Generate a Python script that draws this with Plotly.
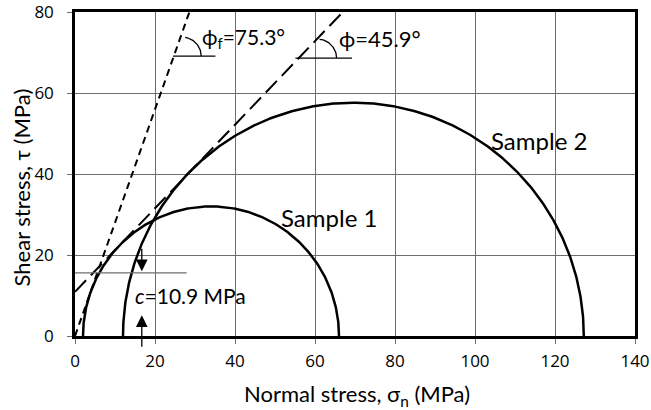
import numpy as np
import plotly.graph_objects as go

# ---- data ----
samples = ["Sample 1", "Sample 2"]
sigma3 = [2.0, 12.0]          # MPa, minor principal stress (left end of circle)
sigma1 = [66.0, 127.2]        # MPa, major principal stress (right end of circle)

# Mohr-Coulomb envelope (long dashed)
cohesion = 10.9               # MPa
phi_deg = 45.9                # deg

# failure line (short dashed) as drawn
fail_sigma = [0.0, 28.6]
fail_tau = [0.0, 80.0]

x_ticks = [0, 20, 40, 60, 80, 100, 120, 140]
y_ticks = [0, 20, 40, 60, 80]

X_RANGE = [0, 140]
Y_RANGE = [0, 80]

LABEL_FONT = "Lato"
TICK_FONT = "Open Sans"

fig = go.Figure()

# Mohr circles
for name, s3, s1 in zip(samples, sigma3, sigma1):
    c = (s1 + s3) / 2
    r = (s1 - s3) / 2
    t = np.linspace(0, np.pi, 361)
    fig.add_trace(go.Scatter(x=c + r * np.cos(t), y=r * np.sin(t), mode="lines",
                             line=dict(color="black", width=2.5), name=name,
                             hoverinfo="skip", showlegend=False))

# long dashed envelope
slope = np.tan(np.radians(phi_deg))
env_x = [0.0, (Y_RANGE[1] - cohesion) / slope]
env_y = [cohesion + slope * v for v in env_x]
fig.add_trace(go.Scatter(x=env_x, y=env_y, mode="lines",
                         line=dict(color="black", width=2, dash="16px,7px"),
                         hoverinfo="skip", showlegend=False))

# short dashed failure line
fig.add_trace(go.Scatter(x=fail_sigma, y=fail_tau, mode="lines",
                         line=dict(color="black", width=2, dash="7px,5px"),
                         hoverinfo="skip", showlegend=False))

# angle markers (horizontal line + quarter arc)
px_x, px_y = 4.0, 4.05   # pixels per data unit
def angle_marker(x0, x1, yh, xc, r_px=19, a1=84):
    fig.add_shape(type="line", x0=x0, x1=x1, y0=yh, y1=yh,
                  line=dict(color="black", width=1.3))
    a = np.radians(np.linspace(0, a1, 40))
    fig.add_trace(go.Scatter(x=xc + r_px / px_x * np.cos(a), y=yh + r_px / px_y * np.sin(a),
                             mode="lines", line=dict(color="black", width=1.3),
                             hoverinfo="skip", showlegend=False))

angle_marker(24.5, 35.1, 69.1, 26.8, a1=81)
angle_marker(55.1, 69.25, 68.6, 60.65, a1=84)

# cohesion marker line
fig.add_shape(type="line", x0=0, x1=27.9, y0=15.6, y1=15.6,
              line=dict(color="#6e6e6e", width=1.3))

# arrows
for ytip, ay in [(16.0, -24), (5.1, 33)]:
    fig.add_annotation(x=16.7, y=ytip, ax=0, ay=ay, text="", showarrow=True,
                       arrowhead=2, arrowsize=1.8, arrowwidth=1.3, arrowcolor="black")

lab = dict(family=LABEL_FONT, size=24, color="black")
lab_num = dict(family=LABEL_FONT, size=21, color="black")
fig.add_annotation(x=63.5, y=29.3, text="Sample 1", showarrow=False, font=lab)
fig.add_annotation(x=116, y=48.3, text="Sample 2", showarrow=False, font=lab)
fig.add_annotation(x=14.6, y=10.0, text="<i>c</i>=10.9 MPa", showarrow=False,
                   xanchor="left", font=lab_num)
fig.add_annotation(x=31.3, y=73.5, text="ϕ<sub>f</sub>=75.3°", showarrow=False,
                   xanchor="left", font=lab_num)
fig.add_annotation(x=65.6, y=73.5, text="ϕ=45.9°", showarrow=False,
                   xanchor="left", font=dict(family=LABEL_FONT, size=22, color="black"))

# axis titles
tfont = dict(family=LABEL_FONT, size=22, color="black")
fig.add_annotation(xref="paper", yref="paper", x=0.503, y=-0.182, yanchor="middle",
                   text="Normal stress, σ<sub>n</sub> (MPa)", showarrow=False, font=tfont)
fig.add_annotation(xref="paper", yref="paper", x=-0.095, y=0.458, xanchor="center",
                   yanchor="middle", textangle=-90,
                   text="Shear stress, τ (MPa)", showarrow=False, font=tfont)

axis_common = dict(showgrid=True, gridcolor="#6e6e6e", gridwidth=1, automargin=False,
                   showline=True, linecolor="black", linewidth=2.5, mirror=True,
                   ticks="outside", ticklen=5, tickcolor="#6e6e6e", tickwidth=1,
                   ticklabeloverflow="allow", zeroline=False,
                   tickfont=dict(family=TICK_FONT, size=17, color="black"))

fig.update_xaxes(range=X_RANGE, tickvals=x_ticks, ticklabelstandoff=3, **axis_common)
fig.update_yaxes(range=Y_RANGE, tickvals=y_ticks, ticklabelstandoff=10, **axis_common)

fig.update_layout(width=651, height=410, margin=dict(l=75, r=16, t=12, b=74),
                  plot_bgcolor="white", paper_bgcolor="white", showlegend=False)

fig.write_html("out.html", config={"displayModeBar": False},
               post_script="document.body.style.margin='0';document.body.style.padding='0';")
